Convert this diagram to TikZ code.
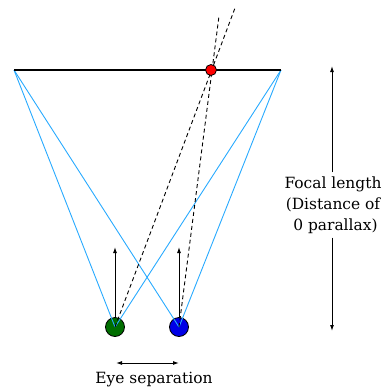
\documentclass[tikz,border=0pt]{standalone}
\usepackage{fontspec}
\setmainfont{DejaVu Serif}
\usetikzlibrary{arrows.meta}
\definecolor{raycol}{RGB}{40,170,255}
\definecolor{eyegreen}{RGB}{0,110,0}
\definecolor{eyeblue}{RGB}{0,0,230}
\begin{document}
\begin{tikzpicture}[x=1bp,y=-1bp,
  rayline/.style={draw=raycol, line width=0.9bp},
  sight/.style={black, line width=0.9bp, dash pattern=on 4bp off 3bp},
  arr/.style={black, line width=1bp, -{Latex[length=6bp,width=4bp]}},
  darr/.style={black, line width=1bp, {Latex[length=6bp,width=4bp]}-{Latex[length=6bp,width=4bp]}},
  lbl/.style={font=\fontsize{15.5}{21}\selectfont, align=center, inner sep=0pt}]
\useasboundingbox (0,0) rectangle (386,391);
\coordinate (L) at (14,70);
\coordinate (R) at (281,70);
\coordinate (P) at (211,70);
\coordinate (G) at (115,327);
\coordinate (B) at (179,327);
\coordinate (GT) at (235,8);
\coordinate (BT) at (219,16);
% eye up arrows
\coordinate (GA0) at (115,320); \coordinate (GA1) at (115,247);
\coordinate (BA0) at (179,320); \coordinate (BA1) at (179,247);
\draw[arr] (GA0) -- (GA1);
\draw[arr] (BA0) -- (BA1);
% eyes
\node[circle, draw=black, fill=eyegreen, line width=0.8bp, minimum size=19bp, inner sep=0pt] (ge) at (G) {};
\node[circle, draw=black, fill=eyeblue, line width=0.8bp, minimum size=19bp, inner sep=0pt] (be) at (B) {};
% rays
\draw[rayline] (L) -- (ge.center);
\draw[rayline] (L) -- (be.center);
\draw[rayline] (R) -- (ge.center);
\draw[rayline] (R) -- (be.center);
% sight lines
\draw[sight] (ge.center) -- (GT);
\draw[sight] (be.center) -- (BT);
% screen
\draw[black, line width=2.5bp] (L) -- (R);
\node[circle, draw=black, fill=red, line width=0.8bp, minimum size=11bp, inner sep=0pt] (pt) at (P) {};
% eye separation
\coordinate (S0) at (116,363); \coordinate (S1) at (179,363);
\draw[darr] (S0) -- (S1);
\node[lbl] (es) at (154,380) {Eye separation};
% focal length
\node[lbl] (fl) at (333,205) {Focal length\\(Distance of\\\ 0 parallax)};
\coordinate (F0) at (332,66); \coordinate (F1) at (332,331);
\draw[arr] (fl.north -| F0) ++(0,-4) -- (F0);
\draw[arr] (fl.south -| F1) ++(0,4) -- (F1);
\end{tikzpicture}
\end{document}
